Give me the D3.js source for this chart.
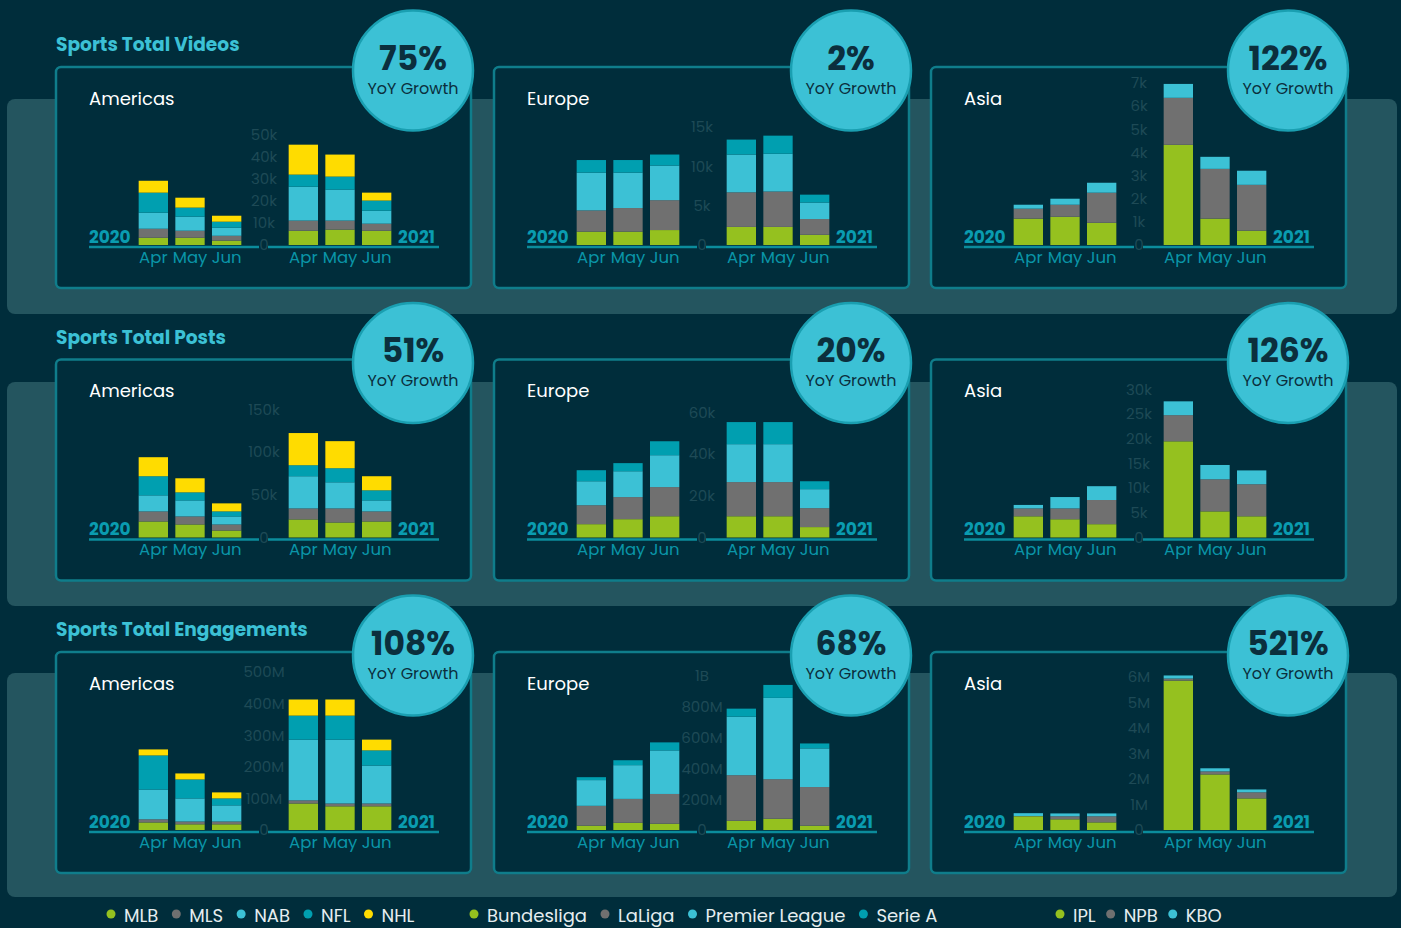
<!DOCTYPE html>
<html lang="en">
<head>
<meta charset="UTF-8"/>
<title>Sports totals</title>
<script src="https://d3js.org/d3.v7.min.js"></script>
<style>
  body { margin: 0; background: #002d3b; }
  svg text { font-family: Poppins, "Open Sans", sans-serif; }
</style>
</head>
<body>
<svg id="chart" width="1401" height="928"></svg>
<script>

// categories
var months = ["Apr", "May", "Jun"];
var years = ["2020", "2021"];
var regions = ["Americas", "Europe", "Asia"];
var sectionTitles = ["Sports Total Videos", "Sports Total Posts", "Sports Total Engagements"];
var americasLeagues = ["MLB", "MLS", "NAB", "NFL", "NHL"];
var europeLeagues = ["Bundesliga", "LaLiga", "Premier League", "Serie A"];
var asiaLeagues = ["IPL", "NPB", "KBO"];
var growth = [["75%", "2%", "122%"], ["51%", "20%", "126%"], ["108%", "68%", "521%"]];

// values: one row per month (2020 Apr..Jun, 2021 Apr..Jun), one column per league
var videosAmericas = [
  [3300, 4100, 7300, 9100, 5400],
  [3300, 3200, 6400, 4100, 4500],
  [2000, 2200, 3700, 2700, 2700],
  [6500, 4600, 15400, 5500, 13600],
  [7000, 4100, 14100, 5900, 10000],
  [6500, 3200, 5900, 4600, 3600]
];
var videosEurope = [
  [1700, 2700, 4800, 1600],
  [1700, 3000, 4500, 1600],
  [1900, 3800, 4400, 1400],
  [2300, 4400, 4800, 1900],
  [2300, 4500, 4800, 2300],
  [1300, 2000, 2100, 1000]
];
var videosAsia = [
  [1140, 430, 170],
  [1220, 520, 260],
  [960, 1300, 430],
  [4330, 2030, 600],
  [1140, 2150, 520],
  [620, 1980, 610]
];
var postsAmericas = [
  [18800, 11800, 18800, 22400, 22300],
  [15300, 9400, 18800, 9400, 16500],
  [8200, 7100, 9400, 5900, 9400],
  [21200, 12900, 37700, 12900, 37700],
  [17600, 16500, 30600, 16500, 31700],
  [18800, 11800, 12900, 11800, 16500]
];
var postsEurope = [
  [6400, 9100, 11500, 5300],
  [8800, 10600, 12400, 3900],
  [10200, 14000, 15300, 6700],
  [10200, 16400, 18200, 10600],
  [10200, 16400, 18200, 10600],
  [5000, 9100, 9100, 3800]
];
var postsAsia = [
  [4300, 1600, 700],
  [3700, 2200, 2300],
  [2700, 4900, 2800],
  [19500, 5300, 2800],
  [5300, 6500, 2900],
  [4300, 6500, 2800]
];
var engagementsAmericas = [
  [24e6, 10e6, 94e6, 108e6, 19e6],
  [18e6, 9e6, 73e6, 60e6, 19e6],
  [18e6, 9e6, 51e6, 22e6, 19e6],
  [84e6, 10e6, 192e6, 76e6, 51e6],
  [75e6, 9e6, 202e6, 76e6, 51e6],
  [75e6, 9e6, 120e6, 48e6, 34e6]
];
var engagementsEurope = [
  [28e6, 129e6, 167e6, 19e6],
  [47e6, 155e6, 219e6, 32e6],
  [41e6, 193e6, 283e6, 52e6],
  [60e6, 296e6, 380e6, 52e6],
  [73e6, 257e6, 528e6, 84e6],
  [28e6, 251e6, 251e6, 32e6]
];
var engagementsAsia = [
  [0.54e6, 0.01e6, 0.11e6],
  [0.42e6, 0.12e6, 0.11e6],
  [0.30e6, 0.24e6, 0.11e6],
  [5.86e6, 0.08e6, 0.12e6],
  [2.18e6, 0.12e6, 0.12e6],
  [1.24e6, 0.24e6, 0.11e6]
];

// tick labels
var videosAmericasTicks = [0, 10000, 20000, 30000, 40000, 50000];
var videosEuropeTicks = [0, 5000, 10000, 15000];
var videosAsiaTicks = [0, 1000, 2000, 3000, 4000, 5000, 6000, 7000];
var postsAmericasTicks = [0, 50000, 100000, 150000];
var postsEuropeTicks = [0, 20000, 40000, 60000];
var postsAsiaTicks = [0, 5000, 10000, 15000, 20000, 25000, 30000];
var engagementsAmericasTicks = [0, 100e6, 200e6, 300e6, 400e6, 500e6];
var engagementsEuropeTicks = [0, 200e6, 400e6, 600e6, 800e6, 1e9];
var engagementsAsiaTicks = [0, 1e6, 2e6, 3e6, 4e6, 5e6, 6e6];

var leagueColors = ["#95c11f", "#707070", "#3cc1d5", "#009fb0", "#ffdc00"];

var panels = [
  {row: 0, col: 0, values: videosAmericas, ticks: videosAmericasTicks, keys: americasLeagues, top: 68},
  {row: 0, col: 1, values: videosEurope, ticks: videosEuropeTicks, keys: europeLeagues, top: 60},
  {row: 0, col: 2, values: videosAsia, ticks: videosAsiaTicks, keys: asiaLeagues, top: 16},
  {row: 1, col: 0, values: postsAmericas, ticks: postsAmericasTicks, keys: americasLeagues, top: 50},
  {row: 1, col: 1, values: postsEurope, ticks: postsEuropeTicks, keys: europeLeagues, top: 53},
  {row: 1, col: 2, values: postsAsia, ticks: postsAsiaTicks, keys: asiaLeagues, top: 30},
  {row: 2, col: 0, values: engagementsAmericas, ticks: engagementsAmericasTicks, keys: americasLeagues, top: 20},
  {row: 2, col: 1, values: engagementsEurope, ticks: engagementsEuropeTicks, keys: europeLeagues, top: 24},
  {row: 2, col: 2, values: engagementsAsia, ticks: engagementsAsiaTicks, keys: asiaLeagues, top: 25}
];

// layout
var panelX = [56, 494, 931];
var rowTop = [67, 359.5, 652];
var bandTop = [99, 382, 673];
var bandBottom = [314, 606, 897];
var panelW = 415, panelH = 221, base = 178;

var svg = d3.select("#chart");

svg.append("rect").attr("width", 1401).attr("height", 928).attr("fill", "#002d3b");

// lighter bands behind each row
svg.selectAll("rect.band")
  .data(bandTop)
  .enter()
  .append("rect")
    .attr("class", "band")
    .attr("x", 7)
    .attr("y", function(d) { return d; })
    .attr("width", 1390)
    .attr("height", function(d, i) { return bandBottom[i] - d; })
    .attr("rx", 8)
    .attr("fill", "#24555f");

svg.selectAll("text.section")
  .data(sectionTitles)
  .enter()
  .append("text")
    .attr("class", "section")
    .attr("x", 56)
    .attr("y", function(d, i) { return rowTop[i] - 21; })
    .attr("dominant-baseline", "middle")
    .attr("font-size", 18.6)
    .attr("font-weight", 700)
    .attr("fill", "#3cc1d5")
    .text(function(d) { return d; });

function fmt(v) {
  if (v === 0) return "0";
  if (v >= 1e9) return (v / 1e9) + "B";
  if (v >= 1e6) return (v / 1e6) + "M";
  return (v / 1e3) + "k";
}

// two year groups, three months each
var yearX = d3.scaleBand().domain(years).range([79, 339]).paddingInner(0.2667);
var monthX = d3.scaleBand().domain(months).range([0, yearX.bandwidth()]).paddingInner(0.2).paddingOuter(0.1);

panels.forEach(function(p) {
  var g = svg.append("g")
    .attr("transform", "translate(" + panelX[p.col] + "," + rowTop[p.row] + ")");

  g.append("rect")
    .attr("width", panelW).attr("height", panelH).attr("rx", 5)
    .attr("fill", "#002d3b").attr("stroke", "#0f7d8b").attr("stroke-width", 2.5);

  g.append("text")
    .attr("x", 33).attr("y", 33)
    .attr("dominant-baseline", "middle")
    .attr("font-size", 18)
    .attr("fill", "#ffffff")
    .text(regions[p.col]);

  var y = d3.scaleLinear().domain([0, d3.max(p.ticks)]).range([base, p.top]);

  var series = d3.stack()
    .keys(d3.range(p.keys.length))
    .value(function(d, k) { return d[k]; })(p.values);

  // y labels centred between the two baselines
  var ya = g.append("g")
    .attr("transform", "translate(208,0)")
    .call(d3.axisLeft(y).tickValues(p.ticks).tickFormat(fmt).tickSize(0).tickPadding(0));
  ya.attr("font-family", null).attr("font-size", 15);
  ya.select(".domain").remove();
  ya.selectAll("text").attr("x", 0).attr("text-anchor", "middle").attr("fill", "#1e4a56");

  // baselines
  g.append("line").attr("x1", 33).attr("x2", 203).attr("y1", base + 2).attr("y2", base + 2)
    .attr("stroke", "#0b8c9c").attr("stroke-width", 2.5);
  g.append("line").attr("x1", 212).attr("x2", 383).attr("y1", base + 2).attr("y2", base + 2)
    .attr("stroke", "#0b8c9c").attr("stroke-width", 2.5);

  years.forEach(function(yr, yi) {
    var gy = g.append("g").attr("transform", "translate(" + yearX(yr) + ",0)");

    series.forEach(function(s, si) {
      gy.selectAll(null)
        .data(s.slice(yi * 3, yi * 3 + 3))
        .enter()
        .append("rect")
          .attr("x", function(d, i) { return monthX(months[i]); })
          .attr("width", monthX.bandwidth())
          .attr("y", function(d) { return y(d[1]); })
          .attr("height", function(d) { return y(d[0]) - y(d[1]); })
          .attr("fill", leagueColors[si]);
    });

    var xa = gy.append("g")
      .attr("transform", "translate(0,181)")
      .call(d3.axisBottom(monthX).tickSize(0));
    xa.attr("font-family", null).attr("font-size", 16.5);
    xa.select(".domain").remove();
    xa.selectAll("text").attr("fill", "#0a95a8");
  });

  g.append("text")
    .attr("x", 33).attr("y", 171)
    .attr("dominant-baseline", "middle")
    .attr("font-size", 17).attr("font-weight", 700)
    .attr("fill", "#0a9cb0")
    .text(years[0]);
  g.append("text")
    .attr("x", 379).attr("y", 171)
    .attr("text-anchor", "end")
    .attr("dominant-baseline", "middle")
    .attr("font-size", 17).attr("font-weight", 700)
    .attr("fill", "#0a9cb0")
    .text(years[1]);

  // growth bubble
  var cx = 357, cy = 3.5;
  g.append("circle").attr("cx", cx).attr("cy", cy).attr("r", 60)
    .attr("fill", "#3cc1d5").attr("stroke", "#1a9fb1").attr("stroke-width", 2.5);
  g.append("text")
    .attr("x", cx).attr("y", cy - 1)
    .attr("text-anchor", "middle")
    .attr("font-size", 33).attr("font-weight", 700)
    .attr("fill", "#0b2f3d")
    .text(growth[p.row][p.col]);
  g.append("text")
    .attr("x", cx).attr("y", cy + 23)
    .attr("text-anchor", "middle")
    .attr("font-size", 16)
    .attr("fill", "#0b2f3d")
    .text("YoY Growth");
});

// legends
var legendStart = [111, 474, 1060];
[americasLeagues, europeLeagues, asiaLeagues].forEach(function(keys, gi) {
  var x = legendStart[gi];
  keys.forEach(function(k, i) {
    svg.append("circle").attr("cx", x).attr("cy", 914).attr("r", 4.5).attr("fill", leagueColors[i]);
    var t = svg.append("text")
      .attr("x", x + 13).attr("y", 917)
      .attr("dominant-baseline", "middle")
      .attr("font-size", 18)
      .attr("fill", "#e6eef0")
      .text(k);
    x += 13 + t.node().getComputedTextLength() + (gi === 2 ? 15 : 18);
  });
});

</script>
</body>
</html>
